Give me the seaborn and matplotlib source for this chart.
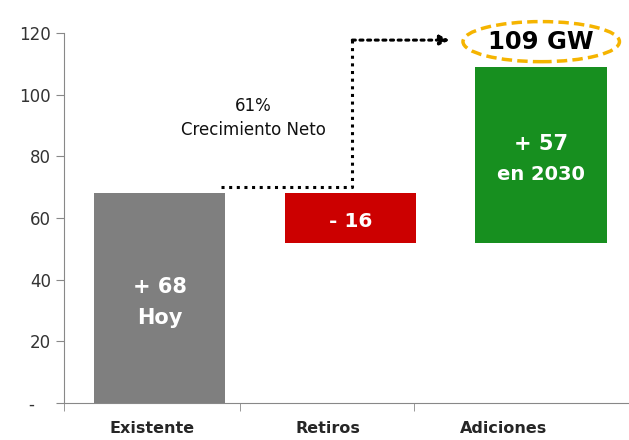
import matplotlib.pyplot as plt
import seaborn as sns
from matplotlib.patches import Ellipse

# waterfall data (GW)
categories = ['Existente', 'Retiros', 'Adiciones']
bottoms = [0, 52, 52]
tops = [68, 68, 109]
bar_labels = ['+ 68\nHoy', '- 16', '+ 57\nen 2030']
bar_colors = ['#7f7f7f', '#cc0000', '#178f1f']
total_label = '109 GW'
growth_label = '61%\nCrecimiento Neto'
yticks = [0, 20, 40, 60, 80, 100, 120]
ytick_labels = ['-   ', '20', '40', '60', '80', '100', '120']

sns.set_style('ticks')
plt.rcParams['font.family'] = ['DejaVu Sans']

fig = plt.figure(figsize=(6.29, 4.40), dpi=100)
ax = fig.add_axes([0.102, 0.084, 0.898, 0.841])

sns.barplot(x=categories, y=tops, hue=categories, palette=bar_colors,
            dodge=False, width=0.69, legend=False, saturation=1, ax=ax)

# turn the bars into floating waterfall steps
for patch, b, t in zip(ax.patches, bottoms, tops):
    patch.set_y(b)
    patch.set_height(t - b)
    patch.set_edgecolor('none')

ax.set_xlim(-0.5, 2.46)
ax.set_ylim(0, 120)
ax.set_yticks(yticks, labels=ytick_labels)
ax.tick_params(axis='y', length=6, color='#888888', labelsize=12, labelcolor='#333333')

# category labels sit a little left of the bars, like in the slide
ax.set_xticks([-0.04, 0.88, 1.80], labels=categories)
ax.set_xticks([-0.5, 0.42, 1.335], minor=True)
ax.tick_params(axis='x', which='major', length=0, pad=13, labelsize=11.5)
ax.tick_params(axis='x', which='minor', length=6, color='#888888')
for lab in ax.get_xticklabels():
    lab.set_fontweight('bold')

sns.despine(ax=ax)
for side in ['left', 'bottom']:
    ax.spines[side].set_color('#888888')

# labels inside the bars
sizes = [(15, 15), (14.5,), (15, 14)]
for i, (lab, b, t) in enumerate(zip(bar_labels, bottoms, tops)):
    lines = lab.split('\n')
    mid = (b + t) / 2
    if len(lines) == 1:
        ax.text(i, mid - 1, lines[0], ha='center', va='center', color='white',
                fontsize=sizes[i][0], fontweight='bold')
    else:
        ax.text(i, mid + 3.5, lines[0], ha='center', va='center', color='white',
                fontsize=sizes[i][0], fontweight='bold')
        ax.text(i, mid - 6.5, lines[1], ha='center', va='center', color='white',
                fontsize=sizes[i][1], fontweight='bold')

# dotted connector and arrow to the total
y_low = tops[0] + 2
y_high = tops[2] + 8.7
ax.plot([0.32, 1.01, 1.01], [y_low, y_low, y_high], ls=(0, (1, 1.5)),
        color='black', lw=2.2, clip_on=False)
ax.annotate('', xy=(1.52, y_high), xytext=(1.01, y_high),
            arrowprops=dict(arrowstyle='-|>', ls=(0, (1, 1.5)), lw=2.2,
                            color='black', mutation_scale=14, shrinkA=0, shrinkB=0),
            annotation_clip=False)

ax.text(0.49, 92.5, growth_label, ha='center', va='center', fontsize=12,
        linespacing=1.45, color='#111111')

ax.text(2, y_high - 0.5, total_label, ha='center', va='center', fontsize=17.5,
        fontweight='bold', color='black', clip_on=False)
ax.add_patch(Ellipse((2, y_high - 0.5), 0.82, 13, fill=False, ls=(0, (3, 1.5)),
                     ec='#f5b400', lw=2.5, clip_on=False))

plt.savefig('out.png', dpi=100)
